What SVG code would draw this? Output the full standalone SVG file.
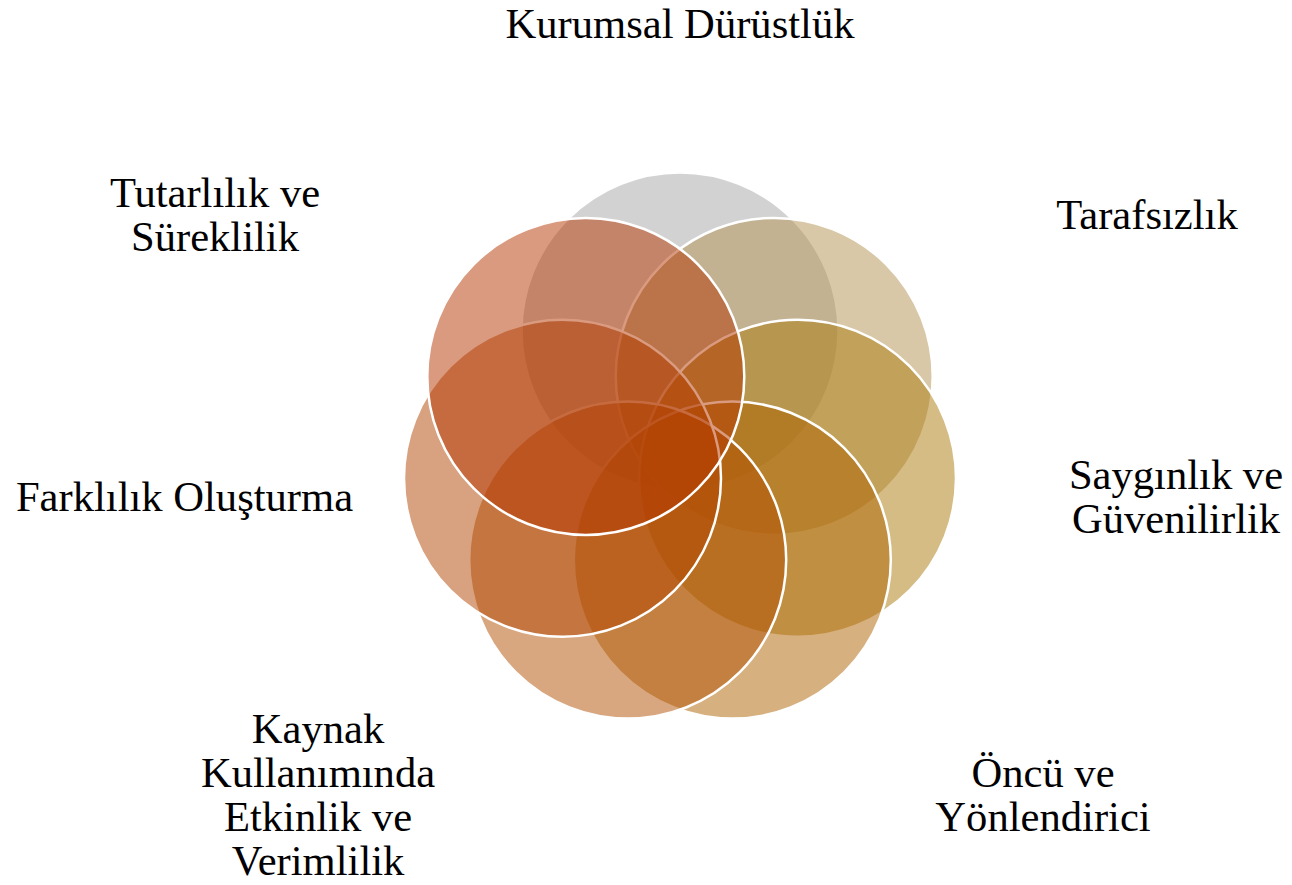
<svg xmlns="http://www.w3.org/2000/svg" width="1292" height="885" viewBox="0 0 1292 885">
<style>
.c{stroke:#ffffff;stroke-width:2.5;fill-opacity:0.5}
.t{font-family:"Liberation Serif","Times New Roman",serif;font-size:42.6px;fill:#000000;text-anchor:middle}
</style>
<rect width="1292" height="885" fill="#ffffff"/>
<g id="node-kurumsal">
<circle class="c" cx="680" cy="331" r="158.5" fill="#a5a5a5"/>
<text class="t" x="680" y="38">Kurumsal Dürüstlük</text>
</g>
<g id="node-tarafsizlik">
<circle class="c" cx="774.2" cy="376.4" r="158.5" fill="#b19151"/>
<text class="t" x="1147" y="229">Tarafsızlık</text>
</g>
<g id="node-saygınlik">
<circle class="c" cx="797.5" cy="478.3" r="158.5" fill="#ab790b"/>
<text class="t" x="1176" y="489">Saygınlık ve</text>
<text class="t" x="1176" y="533">Güvenilirlik</text>
</g>
<g id="node-oncu">
<circle class="c" cx="732.3" cy="560.1" r="158.5" fill="#ad6100"/>
<text class="t" x="1043" y="787">Öncü ve</text>
<text class="t" x="1043" y="831">Yönlendirici</text>
</g>
<g id="node-kaynak">
<circle class="c" cx="627.7" cy="560.1" r="158.5" fill="#b14f01"/>
<text class="t" x="318" y="743">Kaynak</text>
<text class="t" x="318" y="787">Kullanımında</text>
<text class="t" x="318" y="831">Etkinlik ve</text>
<text class="t" x="318" y="875">Verimlilik</text>
</g>
<g id="node-farklilik">
<circle class="c" cx="562.5" cy="478.3" r="158.5" fill="#b14300"/>
<text class="t" x="184.5" y="511">Farklılık Oluşturma</text>
</g>
<g id="node-tutarlilik">
<circle class="c" cx="585.8" cy="376.4" r="158.5" fill="#b33500"/>
<text class="t" x="215" y="207">Tutarlılık ve</text>
<text class="t" x="215" y="251">Süreklilik</text>
</g>
<g id="connectors"></g>
</svg>
